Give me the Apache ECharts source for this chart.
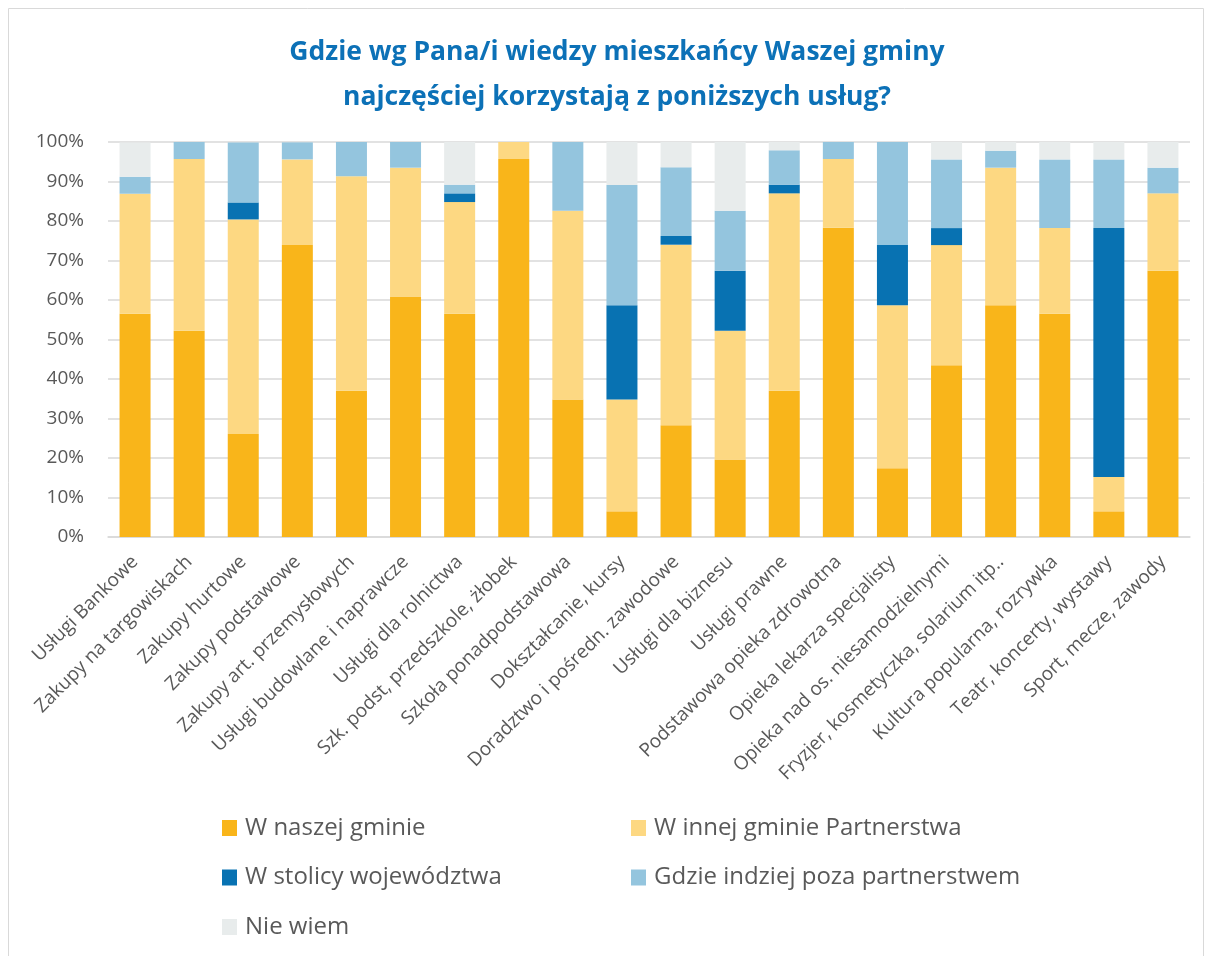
<!DOCTYPE html>
<html>
<head>
<meta charset="utf-8">
<script src="https://cdn.jsdelivr.net/npm/echarts@6/dist/echarts.min.js"></script>
<style>
  html, body { margin: 0; padding: 0; background: #fff; }
  #chart { width: 1205px; height: 956px; }
</style>
</head>
<body>
<div id="chart"></div>
<script>
const categories = [
  'Usługi Bankowe', 'Zakupy na targowiskach', 'Zakupy hurtowe', 'Zakupy podstawowe',
  'Zakupy art. przemysłowych', 'Usługi budowlane i naprawcze', 'Usługi dla rolnictwa',
  'Szk. podst, przedszkole, żłobek', 'Szkoła ponadpodstawowa', 'Dokształcanie, kursy',
  'Doradztwo i pośredn. zawodowe', 'Usługi dla biznesu', 'Usługi prawne',
  'Podstawowa opieka zdrowotna', 'Opieka lekarza specjalisty', 'Opieka nad os. niesamodzielnymi',
  'Fryzjer, kosmetyczka, solarium itp..', 'Kultura popularna, rozrywka',
  'Teatr, koncerty, wystawy', 'Sport, mecze, zawody'
];

// percent of answers, per category
const naszejGminie = [56.5, 52.2, 26.1, 73.9, 37.0, 60.9, 56.5, 95.7, 34.8, 6.5, 28.3, 19.6, 37.0, 78.3, 17.4, 43.5, 58.7, 56.5, 6.5, 67.4];
const innejGminie  = [30.4, 43.5, 54.3, 21.7, 54.3, 32.6, 28.3, 4.3, 47.8, 28.3, 45.7, 32.6, 50.0, 17.4, 41.3, 30.4, 34.8, 21.7, 8.7, 19.6];
const stolicy      = [0, 0, 4.3, 0, 0, 0, 2.2, 0, 0, 23.9, 2.2, 15.2, 2.2, 0, 15.2, 4.3, 0, 0, 63.0, 0];
const gdzieIndziej = [4.3, 4.3, 15.2, 4.3, 8.7, 6.5, 2.2, 0, 17.4, 30.4, 17.4, 15.2, 8.7, 4.3, 26.1, 17.4, 4.3, 17.4, 17.4, 6.5];
const nieWiem      = [8.7, 0, 0, 0, 0, 0, 10.8, 0, 0, 10.9, 6.4, 17.4, 2.1, 0, 0, 4.4, 2.2, 4.4, 4.4, 6.5];

const seriesNames = ['W naszej gminie', 'W innej gminie Partnerstwa', 'W stolicy województwa', 'Gdzie indziej poza partnerstwem', 'Nie wiem'];
const seriesData = [naszejGminie, innejGminie, stolicy, gdzieIndziej, nieWiem];
const colors = ['#F9B51A', '#FDD882', '#0872B2', '#94C5DE', '#E8ECEC'];

const chart = echarts.init(document.getElementById('chart'));

const legendBase = {
  orient: 'vertical',
  top: 810,
  itemWidth: 15,
  itemHeight: 16,
  itemGap: 23.5,
  icon: 'rect',
  textStyle: { fontSize: 24, lineHeight: 26, color: '#595959', padding: [0, 0, 0, 3] }
};

const option = {
  animation: false,
  color: colors,
  textStyle: { fontFamily: 'Open Sans' },
  graphic: [{
    type: 'rect',
    shape: { x: 8.5, y: 8.5, width: 1195, height: 960 },
    style: { fill: 'none', stroke: '#D9D9D9', lineWidth: 1 }
  }],
  title: {
    text: 'Gdzie wg Pana/i wiedzy mieszkańcy Waszej gminy\nnajczęściej korzystają z poniższych usług?',
    left: 612,
    textAlign: 'center',
    top: 25,
    textStyle: {
      fontFamily: 'Open Sans',
      fontSize: 26.5,
      fontWeight: 'bold',
      color: '#0C71B7',
      lineHeight: 45
    }
  },
  legend: [
    Object.assign({}, legendBase, {
      data: ['W naszej gminie', 'W stolicy województwa', 'Nie wiem'],
      left: 217
    }),
    Object.assign({}, legendBase, {
      data: ['W innej gminie Partnerstwa', 'Gdzie indziej poza partnerstwem'],
      left: 626
    })
  ],
  grid: {
    left: 108,
    right: 15,
    top: 142,
    bottom: 419
  },
  xAxis: {
    type: 'category',
    data: categories,
    axisTick: { show: false },
    axisLine: { lineStyle: { color: '#D9D9D9', width: 1.5 } },
    axisLabel: {
      rotate: 45,
      interval: 0,
      fontSize: 19,
      color: '#595959',
      margin: 22
    }
  },
  yAxis: {
    type: 'value',
    min: 0,
    max: 100,
    interval: 10,
    axisLabel: {
      formatter: '{value}%',
      fontSize: 19,
      color: '#595959',
      margin: 24
    },
    splitLine: { lineStyle: { color: '#D9D9D9', width: 1.5 } }
  },
  series: seriesNames.map((name, i) => ({
    name: name,
    type: 'bar',
    stack: 'total',
    barWidth: 31,
    data: seriesData[i]
  }))
};

chart.setOption(option);
</script>
</body>
</html>
